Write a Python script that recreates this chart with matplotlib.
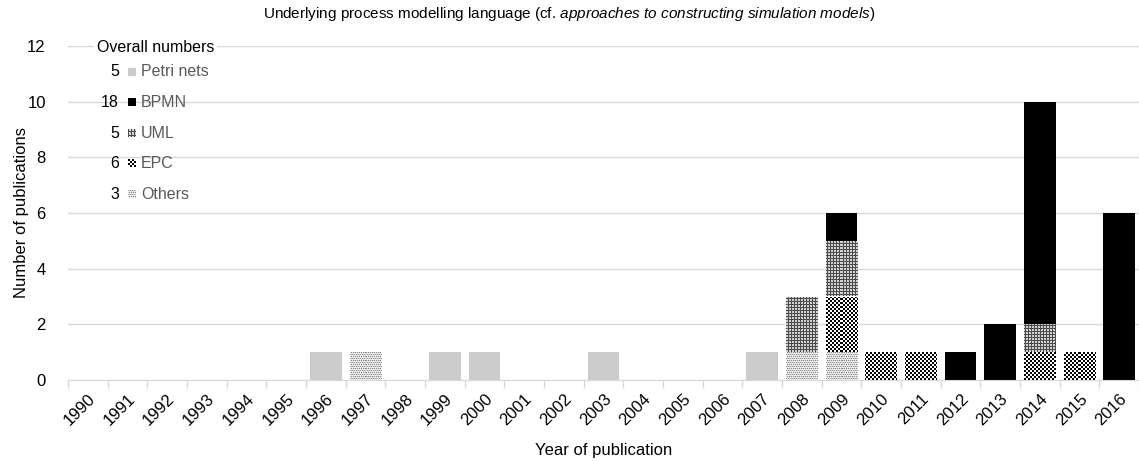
import matplotlib
matplotlib.use("Agg")
import matplotlib.pyplot as plt
import numpy as np

years = list(range(1990, 2017))
series_names = ["Others", "EPC", "UML", "BPMN", "Petri nets"]
others = [0,0,0,0,0,0,0,1,0,0,0,0,0,0,0,0,0,0,1,1,0,0,0,0,0,0,0]
epc    = [0,0,0,0,0,0,0,0,0,0,0,0,0,0,0,0,0,0,0,2,1,1,0,0,1,1,0]
uml    = [0,0,0,0,0,0,0,0,0,0,0,0,0,0,0,0,0,0,2,2,0,0,0,0,1,0,0]
bpmn   = [0,0,0,0,0,0,0,0,0,0,0,0,0,0,0,0,0,0,0,1,0,0,1,2,8,0,6]
petri  = [0,0,0,0,0,0,1,0,0,1,1,0,0,1,0,0,0,1,0,0,0,0,0,0,0,0,0]
legend_order = ["Petri nets", "BPMN", "UML", "EPC", "Others"]
legend_totals = [5, 18, 5, 6, 3]

plt.rcParams["font.family"] = ["Liberation Sans", "DejaVu Sans"]
plt.rcParams["mathtext.fontset"] = "custom"
plt.rcParams["mathtext.rm"] = "Liberation Sans"
plt.rcParams["mathtext.it"] = "Liberation Sans:italic"

data = {"Others": others, "EPC": epc, "UML": uml, "BPMN": bpmn, "Petri nets": petri}
solid = {"BPMN": "black", "Petri nets": "#cccccc"}


def texture(name, h, w):
    i, j = np.mgrid[0:h, 0:w]
    img = np.ones((h, w, 3))
    if name == "EPC":
        v = ((i // 2 + j // 2) % 2).astype(float)
        img[:] = v[..., None]
    elif name == "UML":
        dark = (i % 3 == 0) | (j % 3 == 0)
        img[:] = 0.82
        img[dark] = 0.30
    elif name == "Others":
        img[:] = 0.86
        img[((i + 2 * j) % 4 == 0)] = 0.55
        img[((i % 2 == 1) & (j % 2 == 0))] = 1.0
    return img


W, H = 1139, 461
fig = plt.figure(figsize=(W/100, H/100), dpi=100)
ax_l, ax_b, ax_w, ax_h = 68, 81, W - 68, 334
ax = fig.add_axes([ax_l/W, ax_b/H, ax_w/W, ax_h/H])

x = np.arange(len(years))
xlim = (-0.5, len(years) - 0.5)
ylim = (0, 12)
bottom = np.zeros(len(years))
for name in series_names:
    vals = np.array(data[name], dtype=float)
    if name in solid:
        ax.bar(x, vals, width=0.8, bottom=bottom, color=solid[name], linewidth=0, zorder=3)
    else:
        bars = ax.bar(x, vals, width=0.8, bottom=bottom, color="white", linewidth=0, zorder=3)
        tex = texture(name, ax_h, ax_w)
        for b, v in zip(bars, vals):
            if v > 0:
                im = ax.imshow(tex, extent=(xlim[0], xlim[1], ylim[0], ylim[1]),
                               aspect="auto", interpolation="nearest", zorder=3.5,
                               origin="upper")
                im.set_clip_path(b)
    bottom += vals

ax.set_xlim(*xlim)
ax.set_ylim(*ylim)
ax.set_yticks(range(0, 13, 2))
ax.yaxis.grid(True, color="#d9d9d9", linewidth=1, zorder=0)
ax.set_axisbelow(True)
for s in ["top", "right", "left"]:
    ax.spines[s].set_visible(False)
ax.spines["bottom"].set_color("#d9d9d9")
ax.spines["bottom"].set_zorder(4)
ax.tick_params(axis="y", length=0, labelsize=12, pad=16)
ax.set_xticks(x)
ax.set_xticklabels([str(y) for y in years], rotation=45, ha="right",
                   rotation_mode="anchor", fontsize=12)
ax.tick_params(axis="x", length=0, pad=8)
ax.set_xticks(np.arange(-0.5, len(years), 1.0), minor=True)
ax.tick_params(axis="x", which="minor", length=6, color="#d9d9d9", width=1)

ax.set_xlabel("Year of publication", fontsize=12, labelpad=11)
ax.set_ylabel("Number of publications", fontsize=12, labelpad=-1)

fig.text(0.5, 1 - 14/H,
         "Underlying process modelling language (cf. $\\it{approaches\\ to\\ constructing\\ simulation\\ models}$)",
         ha="center", va="center", fontsize=11)

# legend
fs_leg = 11.5
fig.text(97/W, 1 - 48/H, "Overall numbers", ha="left", va="center", fontsize=fs_leg,
         bbox=dict(facecolor="white", edgecolor="none", pad=2), zorder=5)
row0 = 72
step = 30.5
for i, (name, tot) in enumerate(zip(legend_order, legend_totals)):
    yc = row0 + i * step
    fig.text(119/W, 1 - yc/H, str(tot), ha="right", va="center", fontsize=fs_leg, zorder=5)
    max_ = fig.add_axes([128/W, 1 - (yc + 4)/H, 8/W, 8/H], zorder=6)
    max_.set_axis_off()
    if name in solid:
        max_.imshow(np.zeros((8, 8, 3)) + (0.0 if name == "BPMN" else 0.8),
                    aspect="auto", interpolation="nearest", vmin=0, vmax=1)
    else:
        max_.imshow(texture(name, 8, 8), aspect="auto", interpolation="nearest")
    fig.text(141/W, 1 - yc/H, name, ha="left", va="center", fontsize=fs_leg,
             color="#595959", zorder=5)

fig.savefig("out.png", dpi=100)
